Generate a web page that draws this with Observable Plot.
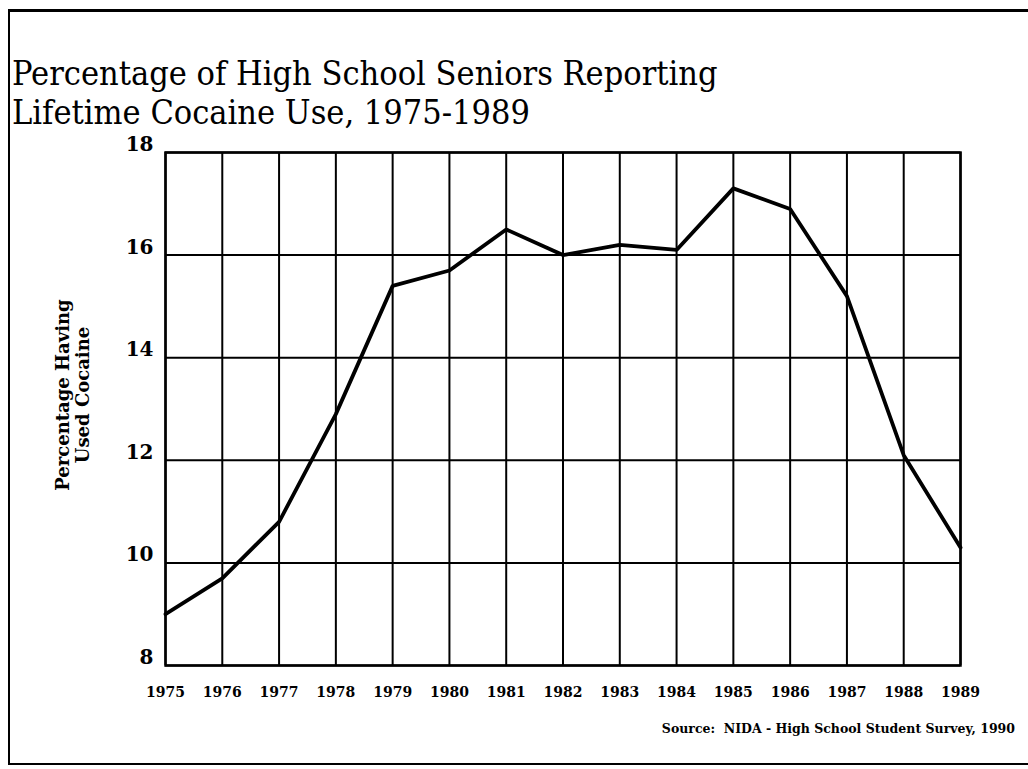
<!DOCTYPE html>
<html>
<head>
<meta charset="utf-8">
<script src="https://cdn.jsdelivr.net/npm/d3@7"></script>
<script src="https://cdn.jsdelivr.net/npm/@observablehq/plot@0.6"></script>
<style>
  html, body { margin: 0; padding: 0; background: #fff; }
  body { width: 1028px; height: 769px; position: relative; overflow: hidden; }
  #border { position: absolute; left: 8px; top: 9px; width: 1030px; height: 751px;
            border-left: 2px solid #000; border-top: 3px solid #000; border-bottom: 2px solid #000; }
  #title { position: absolute; left: 12px; top: 54px; font-family: "DejaVu Serif Condensed", "DejaVu Serif", serif;
           font-size: 34px; line-height: 39px; color: #000; }
  #chart { position: absolute; left: 0; top: 130px; }
  #source { position: absolute; right: 13px; top: 721px; font-family: "DejaVu Serif", serif;
            font-weight: bold; font-size: 12.5px; color: #000; }
</style>
</head>
<body>
<div id="border"></div>
<div id="title">Percentage of High School Seniors Reporting<br>Lifetime Cocaine Use, 1975-1989</div>
<div id="chart"></div>
<div id="source">Source:&nbsp; NIDA - High School Student Survey, 1990</div>
<script>
const years = [1975, 1976, 1977, 1978, 1979, 1980, 1981, 1982, 1983, 1984, 1985, 1986, 1987, 1988, 1989];
const values = [9.0, 9.7, 10.8, 12.9, 15.4, 15.7, 16.5, 16.0, 16.2, 16.1, 17.3, 16.9, 15.2, 12.1, 10.3];
const yTicks = [8, 10, 12, 14, 16, 18];
const yLabel = "Percentage Having\nUsed Cocaine";

const data = years.map((year, i) => ({year, value: values[i]}));

const chart = Plot.plot({
  width: 1028,
  height: 580,
  marginTop: 22,
  marginBottom: 45,
  marginLeft: 165,
  marginRight: 68,
  style: { fontFamily: "DejaVu Serif, serif", background: "transparent", color: "#000", overflow: "visible" },
  x: { domain: [1975, 1989], label: null },
  y: { domain: [8, 18], label: null },
  marks: [
    Plot.gridX(years, { stroke: "#000", strokeOpacity: 1, strokeWidth: 2 }),
    Plot.gridY(yTicks, { stroke: "#000", strokeOpacity: 1, strokeWidth: 2 }),
    Plot.frame({ stroke: "#000", strokeWidth: 2.5 }),
    Plot.axisX(years, { tickSize: 0, tickPadding: 22, fontSize: 14, fontWeight: "bold", tickFormat: d => String(d), label: null }),
    Plot.axisY(yTicks, { tickSize: 0, tickPadding: 12, fontSize: 20, fontWeight: "bold", dy: -8, tickFormat: d => String(d), label: null }),
    Plot.line(data, { x: "year", y: "value", stroke: "#000", strokeWidth: 3.8, strokeLinejoin: "miter" }),
    Plot.text([yLabel], { text: d => d, frameAnchor: "left", textAnchor: "middle", rotate: -90, dx: -93, dy: -14, fontSize: 18, fontWeight: "bold", lineHeight: 1.1 })
  ]
});
document.getElementById("chart").appendChild(chart);
</script>
</body>
</html>
